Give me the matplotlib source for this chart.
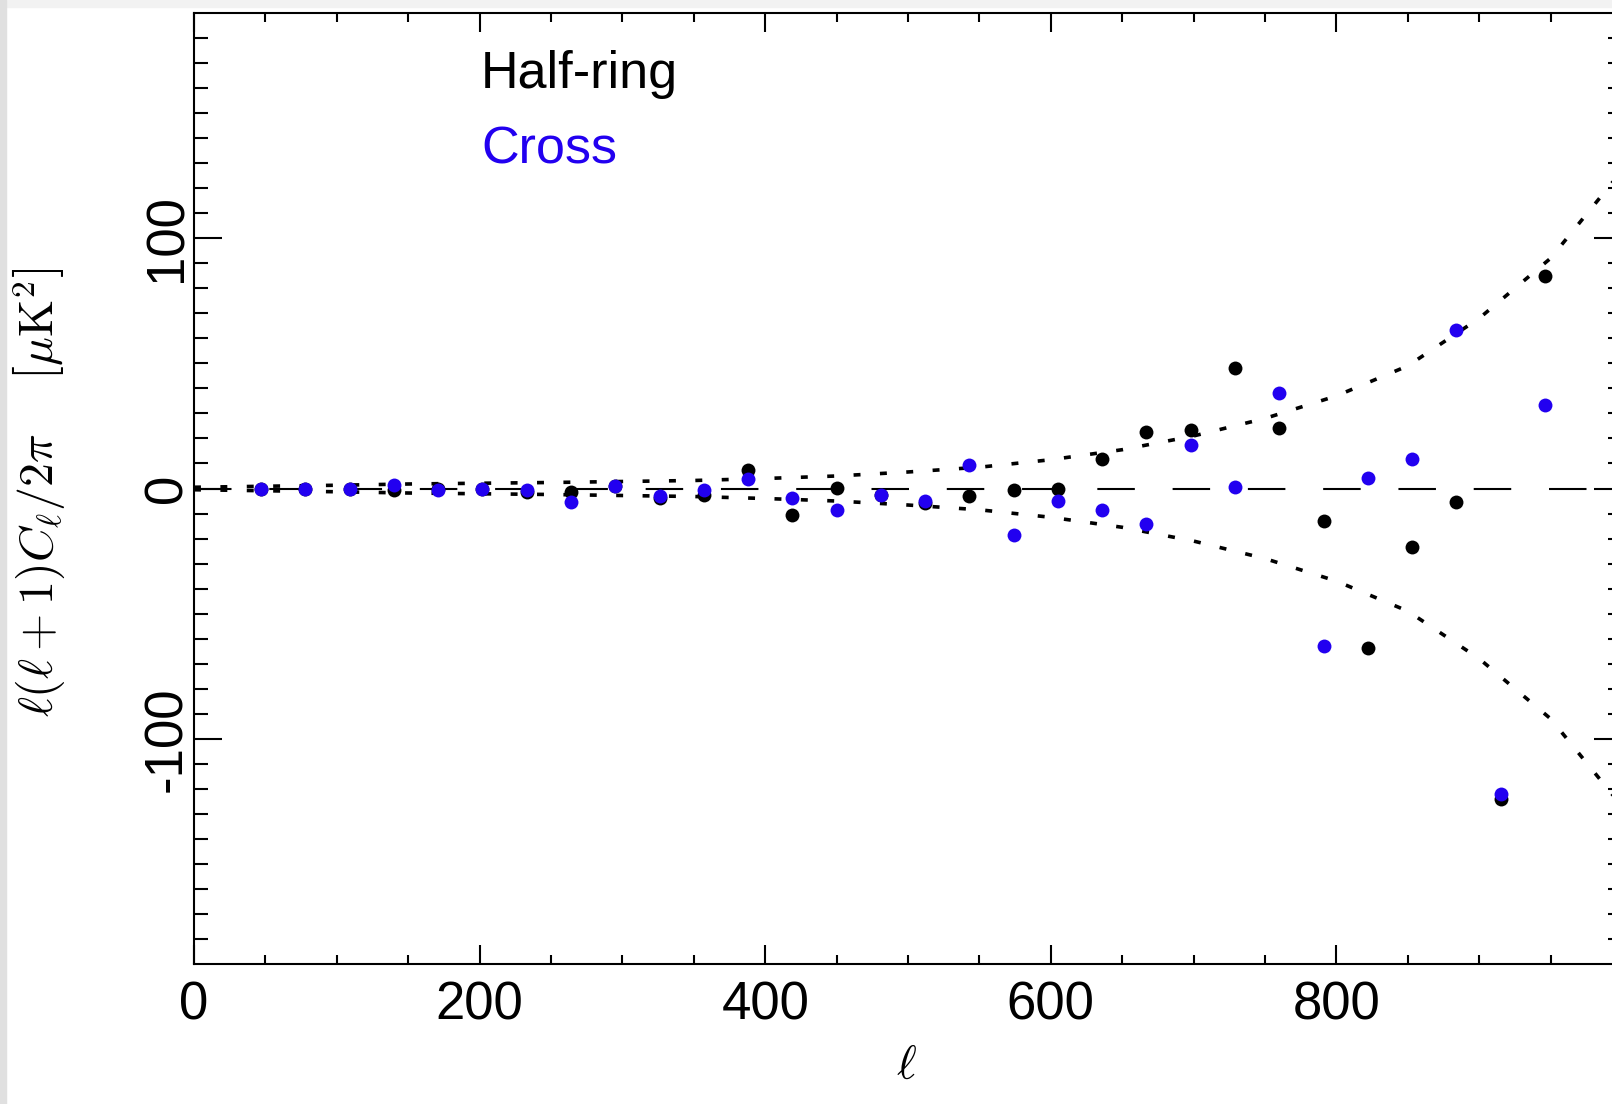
import matplotlib
matplotlib.use("Agg")
import matplotlib.pyplot as plt
from matplotlib.patches import Rectangle
import numpy as np

plt.rcParams['font.family'] = ['Liberation Sans', 'DejaVu Sans']
plt.rcParams['mathtext.fontset'] = 'cm'
plt.rcParams['lines.scale_dashes'] = False

# bin centres (multipole)
ell = [47, 78, 109, 140, 171, 202, 233, 264, 295, 326,
       357, 388, 419, 450, 481, 512, 543, 574, 605, 636,
       667, 698, 729, 760, 791, 822, 853, 884, 915, 946]

# half-ring difference spectrum
half_ring = [0, 0, 0, -0.4, -0.2, 0, -1.5, -1.3, 0.9, -3.7,
             -2.4, 7.2, -10.4, 0.3, -2.5, -5.7, -3.1, -0.4, -0.1, 11.9,
             22.5, 23.3, 48, 24.2, -13.1, -63.7, -23.5, -5.5, -124, 84.9]

# cross spectrum
cross = [0, 0, 0, 1.3, -0.4, -0.2, -0.7, -5.3, 0.9, -2.8,
         -0.7, 3.9, -3.7, -8.4, -2.5, -4.8, 9.2, -18.7, -4.8, -8.4,
         -14, 17.5, 0.7, 38.3, -63.1, 4.2, 11.9, 63.2, -122, 33.2]

# noise envelope (1 sigma)
env_ell = [0, 50, 100, 150, 200, 250, 300, 350, 400, 450, 500,
           550, 600, 650, 700, 750, 800, 850, 900, 950, 1000]
env_sig = [0.5, 0.9, 1.3, 1.8, 2.1, 2.4, 2.8, 3.2, 4.0, 5.0, 6.6,
           8.5, 11.5, 15.5, 21, 28, 37, 49, 68, 92, 127]

blue = '#2200F0'
W, H = 1612, 1104

fig = plt.figure(figsize=(W / 100, H / 100), dpi=100)
ax = fig.add_axes([194 / W, 1 - 964 / H, 1428 / W, 951 / H])

ax.plot([0, 1000], [0, 0], color='black', lw=1.5, dashes=(27.0, 27.2))
ax.plot(env_ell, env_sig, color='black', lw=2.6, dashes=(5, 14))
ax.plot(env_ell, -np.array(env_sig), color='black', lw=2.6, dashes=(5, 14))

ax.plot(ell, half_ring, 'o', color='black', ms=10, mec='none')
ax.plot(ell, cross, 'o', color=blue, ms=10, mec='none')

ax.set_xlim(0, 1000)
ax.set_ylim(-190, 190)

ax.set_xticks([0, 200, 400, 600, 800])
ax.set_xticks(np.arange(0, 1001, 50), minor=True)
ax.set_yticks([-100, 0, 100])
ax.set_yticklabels(['-100', '0', '100'])
ax.set_yticks(np.arange(-180, 181, 10), minor=True)

for s in ax.spines.values():
    s.set_linewidth(1.5)

ax.tick_params(axis='both', which='both', direction='in', top=True, right=True, width=1.5)
ax.tick_params(axis='x', which='major', length=13.5, labelsize=38, pad=12)
ax.tick_params(axis='x', which='minor', length=6.8)
ax.tick_params(axis='y', which='major', length=20, labelsize=38, pad=1)
ax.tick_params(axis='y', which='minor', length=10)
for lab in ax.get_yticklabels():
    lab.set_rotation(90)
    lab.set_va('center')

fig.text(39 / W, 1 - 492 / H,
         r'$\ell(\ell+1)C_\ell/2\pi\quad\ \left[\mu\mathrm{K}^2\right]$',
         rotation=90, ha='center', va='center', fontsize=34.5)
fig.text(906 / W, 1 - 1067 / H, r'$\ell$', ha='center', va='center', fontsize=34)

fig.text(481 / W, 1 - 88 / H, 'Half-ring', color='black', fontsize=37.5,
         ha='left', va='baseline')
fig.text(481 / W, 1 - 163 / H, 'Cross', color=blue, fontsize=37.5,
         ha='left', va='baseline')

# light screenshot border
fig.patches.append(Rectangle((0, 1 - 7 / H), 1, 7 / H, transform=fig.transFigure,
                             color='#f2f2f2', zorder=-1))
fig.patches.append(Rectangle((0, 0), 6 / W, 1, transform=fig.transFigure,
                             color='#e0e0e0', zorder=-1))

fig.savefig('out.png', dpi=100)
